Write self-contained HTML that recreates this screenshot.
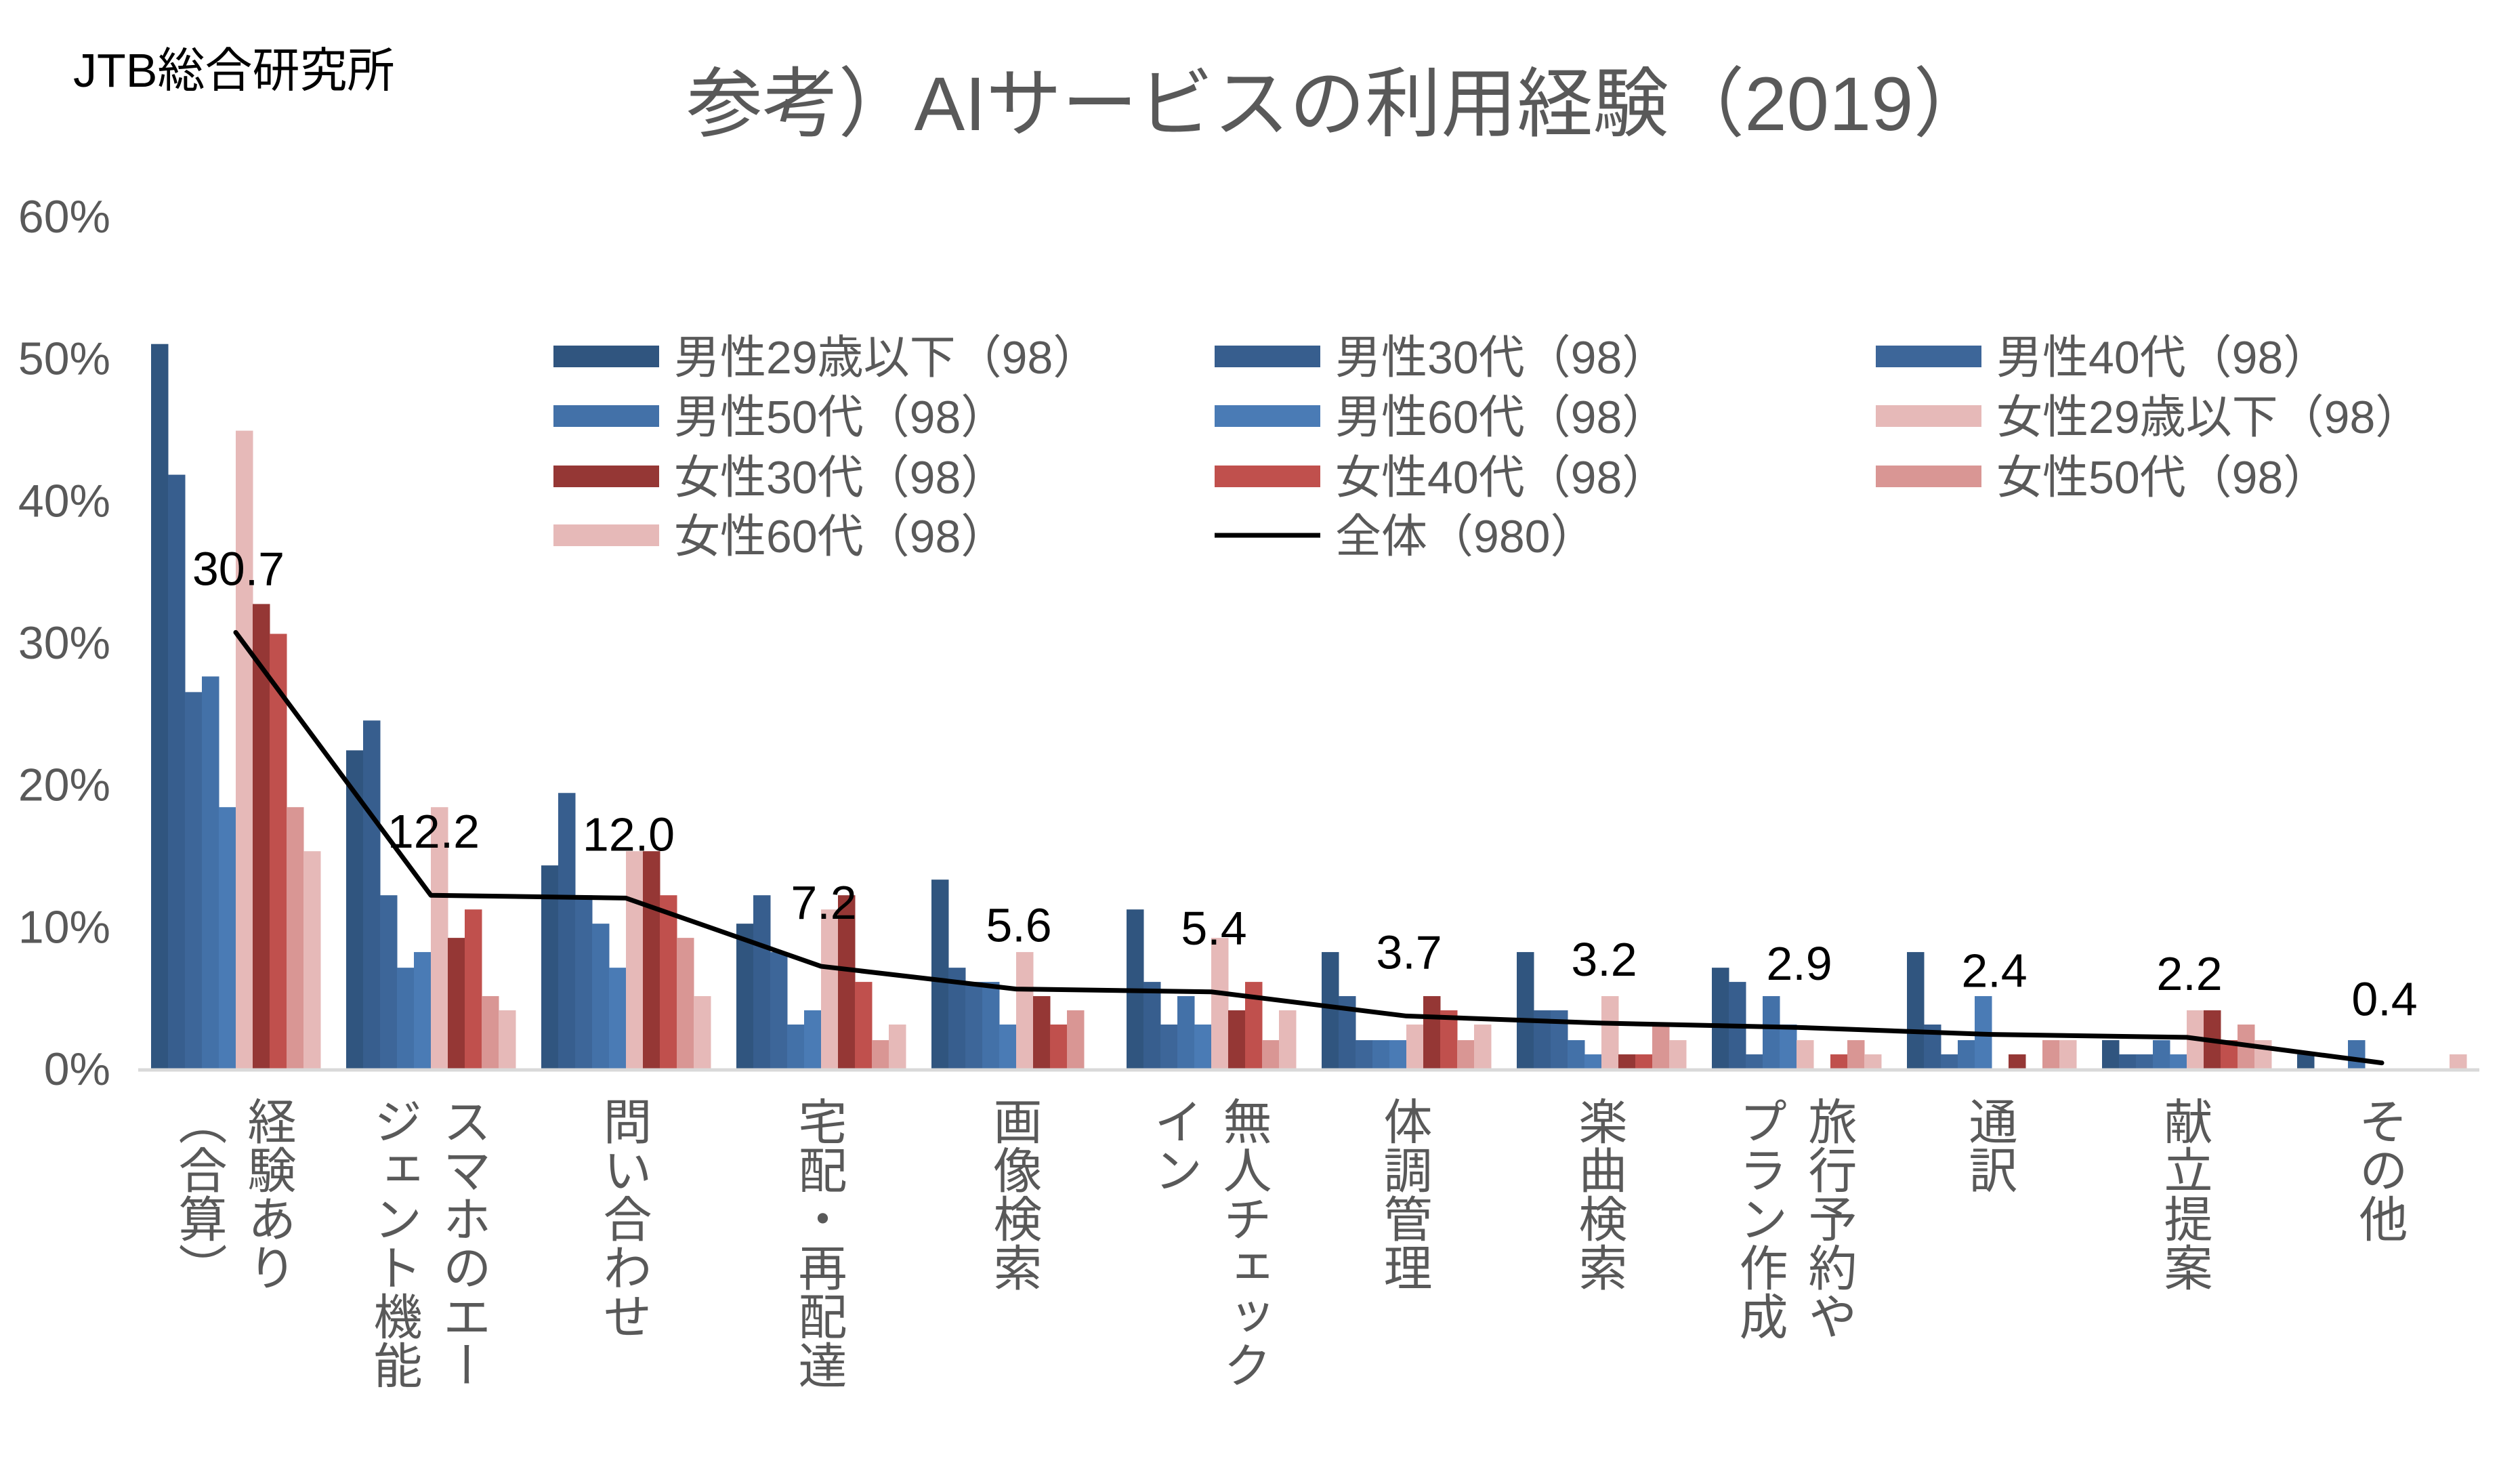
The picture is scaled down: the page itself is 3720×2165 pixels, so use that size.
<!DOCTYPE html>
<html><head><meta charset="utf-8">
<style>
html,body{margin:0;padding:0;background:#fff;}
#wrap{position:relative;width:3720px;height:2165px;overflow:hidden;background:#fff;font-family:"Liberation Sans","Noto Sans CJK JP",sans-serif;}
svg{position:absolute;left:0;top:0;}
.xl{position:absolute;writing-mode:vertical-rl;font-size:72px;line-height:102px;color:#595959;transform:translateX(-50%);white-space:nowrap;font-family:"Noto Sans CJK JP","Liberation Sans",sans-serif;}
</style></head>
<body>
<div id="wrap">
<svg id="chart" width="3720" height="2165" xmlns="http://www.w3.org/2000/svg">
  <text x="108" y="128" font-size="70" fill="#000" font-family="Liberation Sans, Noto Sans CJK JP, sans-serif">JTB総合研究所</text>
  <text x="1975" y="192" font-size="112" fill="#595959" text-anchor="middle" font-family="Liberation Sans, Noto Sans CJK JP, sans-serif">参考）AIサービスの利用経験（2019）</text>
</svg>
</div>
<script>
const categories = [["経験あり","（合算）"],["スマホのエー","ジェント機能"],["問い合わせ"],["宅配・再配達"],["画像検索"],["無人チェック","イン"],["体調管理"],["楽曲検索"],["旅行予約や","プラン作成"],["通訳"],["献立提案"],["その他"]];
const seriesNames = ["男性29歳以下(98)","男性30代(98)","男性40代(98)","男性50代(98)","男性60代(98)","女性29歳以下(98)","女性30代(98)","女性40代(98)","女性50代(98)","女性60代(98)"];
const m29 = [51.0,22.4,14.3,10.2,13.3,11.2,8.2,8.2,7.1,8.2,2.0,1.0];
const m30 = [41.8,24.5,19.4,12.2,7.1,6.1,5.1,4.1,6.1,3.1,1.0,0];
const m40 = [26.5,12.2,12.2,8.2,6.1,3.1,2.0,4.1,1.0,1.0,1.0,0];
const m50 = [27.6,7.1,10.2,3.1,6.1,5.1,2.0,2.0,5.1,2.0,2.0,2.0];
const m60 = [18.4,8.2,7.1,4.1,3.1,3.1,2.0,1.0,3.1,5.1,1.0,0];
const f29 = [44.9,18.4,15.3,11.2,8.2,9.2,3.1,5.1,2.0,0,4.1,0];
const f30 = [32.7,9.2,15.3,12.2,5.1,4.1,5.1,1.0,0,1.0,4.1,0];
const f40 = [30.6,11.2,12.2,6.1,3.1,6.1,4.1,1.0,1.0,0,2.0,0];
const f50 = [18.4,5.1,9.2,2.0,4.1,2.0,2.0,3.1,2.0,2.0,3.1,0];
const f60 = [15.3,4.1,5.1,3.1,0,4.1,3.1,2.0,1.0,2.0,2.0,1.0];
const total = [30.7,12.2,12.0,7.2,5.6,5.4,3.7,3.2,2.9,2.4,2.2,0.4];
const totalLabels = ["30.7","12.2","12.0","7.2","5.6","5.4","3.7","3.2","2.9","2.4","2.2","0.4"];
const yTicks = [0,10,20,30,40,50,60];
const yTickLabels = ["0%","10%","20%","30%","40%","50%","60%"];

const series = [m29,m30,m40,m50,m60,f29,f30,f40,f50,f60];
const colors = ["#30557f","#375e8e","#3d6699","#4371a8","#4a7bb5","#e6b9b8","#953735","#c0504d","#d99694","#e6b9b8"];
const NS="http://www.w3.org/2000/svg";
const svg=document.getElementById('chart');
const X0=204, CW=288, BW=25, Y0=1577, YTOP=319, YMAX=60;
function yScale(v){return Y0-(v/YMAX)*(Y0-YTOP);}
function xCenter(i){return X0+CW*i+CW/2;}
function el(tag,attrs){const e=document.createElementNS(NS,tag);for(const k in attrs)e.setAttribute(k,attrs[k]);return e;}

yTicks.forEach((t,i)=>{
  const tx=el('text',{x:163,y:yScale(t)+24,'font-size':68,fill:'#595959','text-anchor':'end','font-family':'Liberation Sans, sans-serif'});
  tx.textContent=yTickLabels[i];
  
  
  svg.appendChild(tx);
});

const barsG=el('g',{});


svg.appendChild(barsG);
categories.forEach((c,i)=>{
  series.forEach((s,j)=>{
    const v=s[i];
    if(v<=0) return;
    const x=xCenter(i)-5*BW+j*BW;
    const r=el('rect',{x:x,y:yScale(v),width:BW+0.5,height:Y0-yScale(v),fill:colors[j]});
    
    
    barsG.appendChild(r);
  });
});

const ax=el('line',{x1:X0,y1:Y0+2,x2:X0+CW*12,y2:Y0+2,stroke:'#d9d9d9','stroke-width':5});


svg.appendChild(ax);

const pts=total.map((v,i)=>xCenter(i)+','+yScale(v)).join(' ');
const pl=el('polyline',{points:pts,fill:'none',stroke:'#000','stroke-width':7,'stroke-linejoin':'round','stroke-linecap':'round'});


svg.appendChild(pl);
total.forEach((v,i)=>{
  const t=el('text',{x:xCenter(i)+4,y:yScale(v)-70,'font-size':70,fill:'#000','text-anchor':'middle','font-family':'Liberation Sans, sans-serif'});
  t.textContent=totalLabels[i];
  
  
  svg.appendChild(t);
});

const legX=[817,1793,2769], legY=[526,614,703,790];
const legendItems=seriesNames.concat(["全体(980)"]);
legendItems.forEach((name,k)=>{
  const col=k%3,row=Math.floor(k/3);
  const x=legX[col],y=legY[row];
  let sw;
  if(k<10){sw=el('rect',{x:x,y:y-16,width:156,height:32,fill:colors[k]});}
  else{sw=el('line',{x1:x,y1:y,x2:x+156,y2:y,stroke:'#000','stroke-width':7});}
  
  
  svg.appendChild(sw);
  const t=el('text',{x:x+178,y:y+25,'font-size':68,fill:'#595959','font-family':'Liberation Sans, Noto Sans CJK JP, sans-serif'});
  t.textContent=name.replace('(','（').replace(')','）');
  
  
  svg.appendChild(t);
});

const wrap=document.getElementById('wrap');
categories.forEach((lines,i)=>{
  const d=document.createElement('div');
  d.className='xl';
  
  
  d.style.left=(xCenter(i)+2)+'px';
  d.style.top='1618px';
  d.innerHTML=lines.join('<br>');
  wrap.appendChild(d);
});
</script>
</body></html>
